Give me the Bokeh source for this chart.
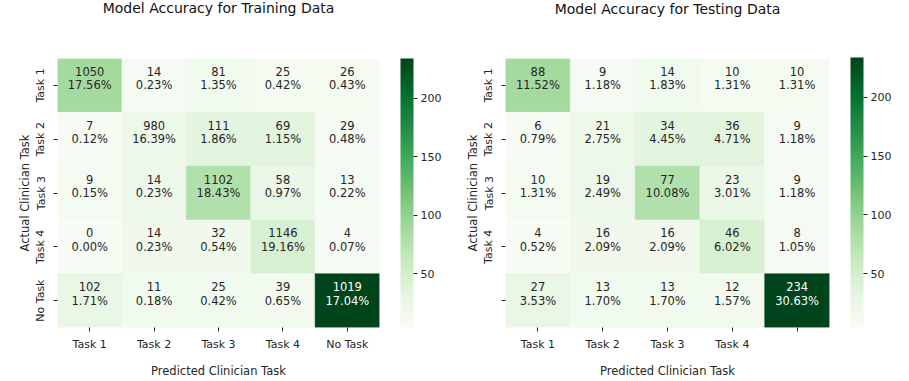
from bokeh.plotting import figure
from bokeh.layouts import row
from bokeh.models import ColumnDataSource, LinearColorMapper, ColorBar, FixedTicker, Title
from bokeh.palettes import Greens256
from bokeh.embed import file_html
from bokeh.resources import INLINE
from bokeh.core.properties import value

train_tasks = ["Task 1", "Task 2", "Task 3", "Task 4", "No Task"]
test_tasks = ["Task 1", "Task 2", "Task 3", "Task 4", " "]

train_counts = [
    [1050, 14, 81, 25, 26],
    [7, 980, 111, 69, 29],
    [9, 14, 1102, 58, 13],
    [0, 14, 32, 1146, 4],
    [102, 11, 25, 39, 1019],
]
test_counts = [
    [88, 9, 14, 10, 10],
    [6, 21, 34, 36, 9],
    [10, 19, 77, 23, 9],
    [4, 16, 16, 46, 8],
    [27, 13, 13, 12, 234],
]
# in the original, the training panel's colours follow the testing counts
train_color_values = test_counts
test_color_values = test_counts
cbar_ticks = [50, 100, 150, 200]

FONT = "DejaVu Sans"
TXT = "#262626"


def panel(tasks, counts, colors, title, W, H, bl, bt, fw, fh):
    total = sum(sum(r) for r in counts)
    flat_c = [c for r in colors for c in r]
    lo, hi = min(flat_c), max(flat_c)
    mapper = LinearColorMapper(palette=tuple(reversed(Greens256)), low=lo, high=hi)
    xs, ys, vs, cs, ps, tc = [], [], [], [], [], []
    for i, rname in enumerate(tasks):
        for j, cname in enumerate(tasks):
            xs.append(cname)
            ys.append(rname)
            vs.append(colors[i][j])
            cs.append(str(counts[i][j]))
            ps.append("%.2f%%" % (100.0 * counts[i][j] / total))
            tc.append("white" if (colors[i][j] - lo) / (hi - lo) > 0.6 else TXT)
    src = ColumnDataSource(dict(x=xs, y=ys, v=vs, c=cs, p=ps, tc=tc))
    p = figure(x_range=tasks, y_range=list(reversed(tasks)), width=W, height=H,
               output_backend="svg", toolbar_location=None,
               min_border_left=bl, min_border_top=bt,
               min_border_right=W - bl - fw, min_border_bottom=H - bt - fh)
    p.rect(x="x", y="y", width=1, height=1, source=src,
           fill_color={"field": "v", "transform": mapper},
           line_color={"field": "v", "transform": mapper}, line_width=0.5)
    p.text(x="x", y="y", text="c", source=src, text_color="tc",
           text_align="center", text_baseline="middle", y_offset=-14,
           text_font=value(FONT), text_font_size="11.5px")
    p.text(x="x", y="y", text="p", source=src, text_color="tc",
           text_align="center", text_baseline="middle", y_offset=0,
           text_font=value(FONT), text_font_size="11.5px")
    p.grid.visible = False
    p.outline_line_color = None
    for ax in (p.xaxis[0], p.yaxis[0]):
        ax.axis_line_color = None
        ax.major_tick_in = 0
        ax.major_tick_out = 4
        ax.major_tick_line_color = TXT
        ax.major_label_text_font = FONT
        ax.major_label_text_font_size = "11px"
        ax.major_label_text_color = TXT
        ax.axis_label_text_font = FONT
        ax.axis_label_text_font_size = "11.5px"
        ax.axis_label_text_font_style = "normal"
        ax.axis_label_text_color = TXT
    p.xaxis.axis_label = "Predicted Clinician Task"
    p.xaxis.major_label_standoff = 6
    p.xaxis.axis_label_standoff = 10
    p.yaxis.axis_label = "Actual Clinician Task"
    p.yaxis.major_label_orientation = "vertical"
    p.yaxis.major_label_standoff = 6
    p.yaxis.axis_label_standoff = 0
    # title (outermost) plus a spacer between it and the frame
    p.title.text = title
    p.title.align = "center"
    p.title.text_font = FONT
    p.title.text_font_size = "14px"
    p.title.text_font_style = "normal"
    p.title.text_color = "#111111"
    p.title.standoff = -8
    p.add_layout(Title(text=" ", text_font_size="1px", standoff=bt - 14), "above")
    cb = ColorBar(color_mapper=mapper, ticker=FixedTicker(ticks=cbar_ticks),
                  width=13, height=fh, padding=0, margin=0, location=(21, 0),
                  major_tick_in=0, major_tick_out=4, major_tick_line_color=TXT,
                  bar_line_color=None, border_line_color=None,
                  background_fill_color=None, label_standoff=3,
                  major_label_text_font=FONT, major_label_text_font_size="11px",
                  major_label_text_color=TXT)
    p.add_layout(cb, "right")
    return p


p1 = panel(train_tasks, train_counts, train_color_values, "Model Accuracy for Training Data",
           456, 381, 57, 58, 322, 269)
p2 = panel(test_tasks, test_counts, test_color_values, "Model Accuracy for Testing Data",
           453, 381, 49, 57, 324, 270)
layout = row(p1, p2)
open("out.html", "w").write(file_html(layout, INLINE))
